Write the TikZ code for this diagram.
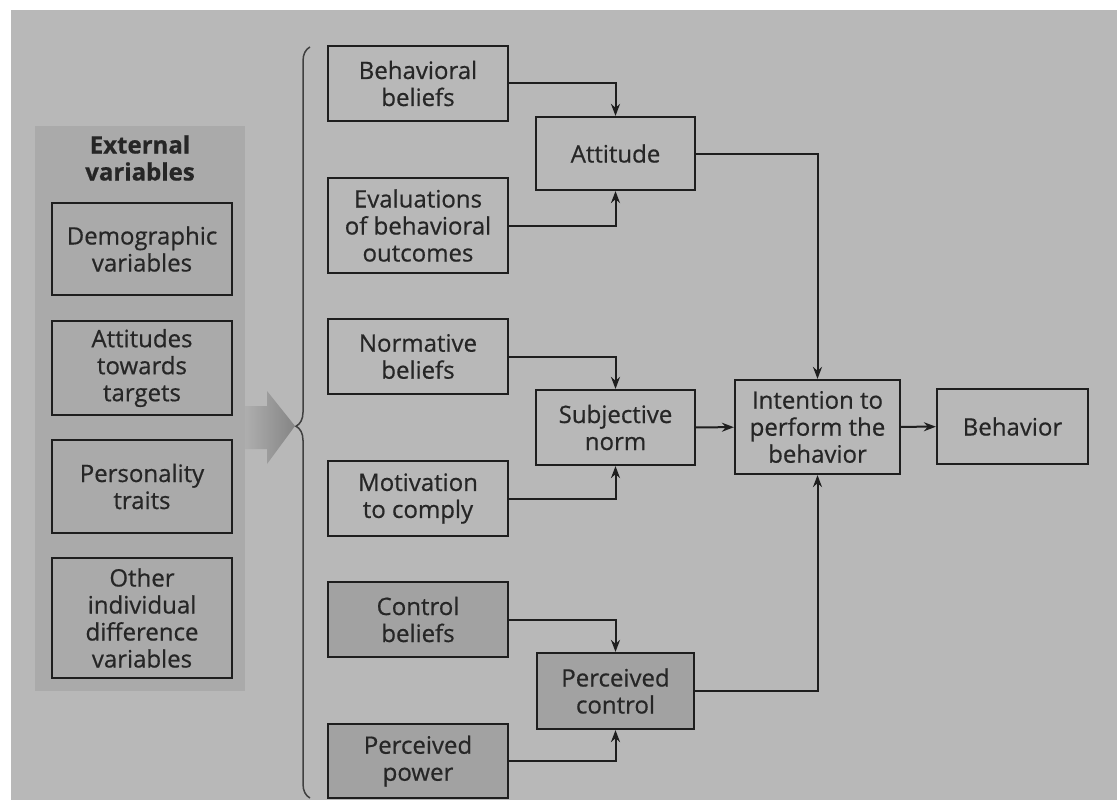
\documentclass[tikz,border=0pt]{standalone}
\usepackage{fontspec}
\setmainfont{Open Sans}
\usetikzlibrary{arrows.meta,decorations.pathreplacing}
\definecolor{bggray}{HTML}{B8B8B8}
\definecolor{panelgray}{HTML}{AAAAAA}
\definecolor{boxgray}{HTML}{A2A2A2}
\definecolor{linegray}{HTML}{1E1E1E}
\definecolor{txtgray}{HTML}{262626}

\begin{document}
\begin{tikzpicture}[x=1pt,y=-1pt,>={Stealth[length=12pt,width=9pt]},
  box/.style={draw=linegray,line width=2.2pt,align=center,text=txtgray,
    minimum width=180pt,minimum height=75pt,inner sep=0pt},
  darkbox/.style={box,fill=boxgray},
  link/.style={draw=linegray,line width=2pt,->}]
\fontsize{24}{27}\selectfont\addfontfeature{FakeBold=0.6}
\useasboundingbox (0,0) rectangle (1117,800);
\fill[white] (0,0) rectangle (1117,800);
\fill[bggray] (11,10) rectangle (1117,800);

% external variables
\fill[panelgray] (35,126) rectangle (245,691);
\node[font=\bfseries,align=center,text=txtgray] (ext) at (140,158) {External\\variables};
\node[box,minimum height=92pt] (demo) at (142,249) {Demographic\\variables};
\node[box,minimum height=94pt] (targ) at (142,368) {Attitudes\\towards\\targets};
\node[box,minimum height=93pt] (pers) at (142,486.5) {Personality\\traits};
\node[box,minimum height=120pt] (other) at (142,618) {Other\\individual\\difference\\variables};

\shade[left color=panelgray!95!white,right color=black!48] (245,406) -- (267,406) -- (267,391) -- (295,426)
  -- (267,464) -- (267,449) -- (245,449) -- cycle;
\draw[linegray!85,line width=1.5pt,decorate,decoration={brace,amplitude=14pt,aspect=0.495}] (310,798) -- (310,47);

% beliefs
\node[box] (bb) at (418,83.5) {Behavioral\\beliefs};
\node[box,minimum height=95pt] (eval) at (418,225.5) {Evaluations\\of behavioral\\outcomes};
\node[box] (nb) at (418,356.5) {Normative\\beliefs};
\node[box] (mot) at (418,498.5) {Motivation\\to comply};
\node[darkbox] (cb) at (418,619.5) {Control\\beliefs};
\node[darkbox,minimum height=74pt] (pp) at (418,761) {Perceived\\power};

% determinants
\node[box,minimum width=159pt,minimum height=73pt] (att) at (615.5,153.5) {Attitude};
\node[box,minimum width=159pt] (sn) at (615.5,427.5) {Subjective\\norm};
\node[darkbox,minimum width=157pt,minimum height=76pt] (pc) at (615.5,691) {Perceived\\control};
\node[box,minimum width=165pt,minimum height=94pt] (int) at (817.5,427) {Intention to\\perform the\\behavior};
\node[box,minimum width=151pt] (beh) at (1012.5,426.5) {Behavior};

\path[link] (bb.east) -| (att.north);
\path[link] (eval.east) -| (att.south);
\path[link] (nb.east) -| (sn.north);
\path[link] (mot.east) -| (sn.south);
\path[link] (cb.east) -| (pc.north);
\path[link] (pp.east) -| (pc.south);
\path[link] (att.east) -| (int.north);
\path[link] (pc.east) -| (int.south);
\path[link] (sn) -- (int);
\path[link] (int) -- (beh);
\end{tikzpicture}
\end{document}
